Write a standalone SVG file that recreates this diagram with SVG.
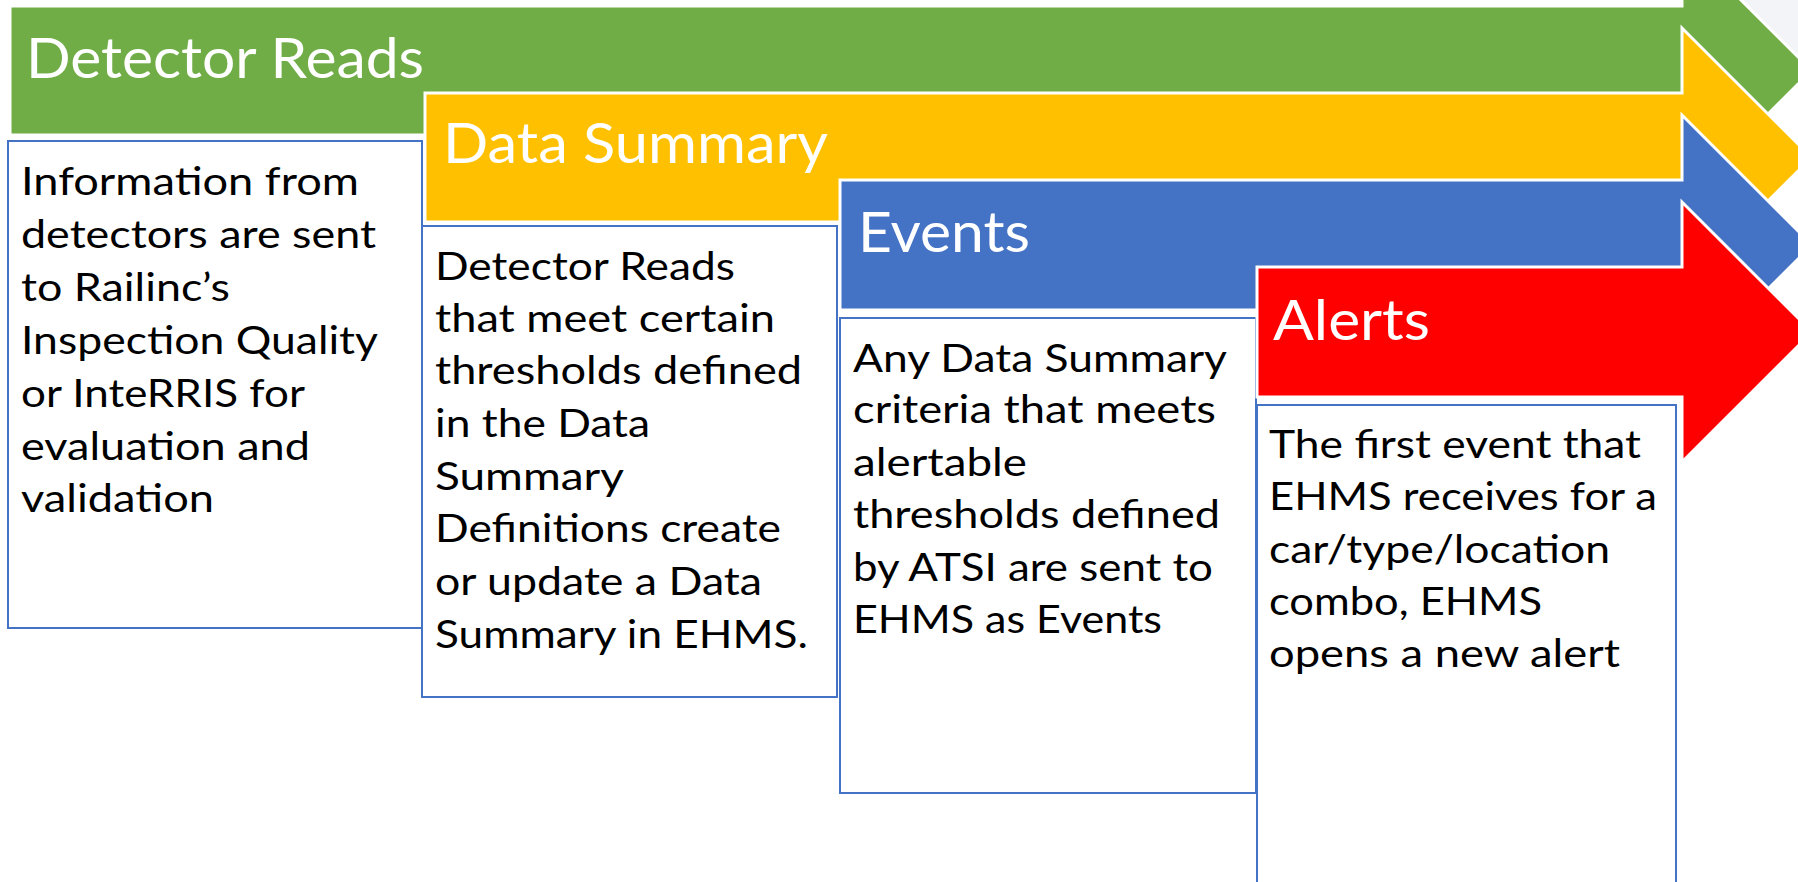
<svg xmlns="http://www.w3.org/2000/svg" width="1798" height="882" viewBox="0 0 1798 882">
  <style>
    .arrow { stroke: #FFFFFF; stroke-width: 3; stroke-linejoin: miter; }
    .box { fill: #FFFFFF; stroke: #4472C4; stroke-width: 2; }
    .title { font-family: Lato, "Open Sans", "Liberation Sans", sans-serif; font-size: 57px; fill: #FFFFFF; }
    .body { font-family: Lato, "Open Sans", "Liberation Sans", sans-serif; font-size: 38px; fill: #000000; }
  </style>
  <rect x="0" y="0" width="1798" height="882" fill="#FFFFFF"/>
  <polygon points="1740,0 1798,0 1798,58" fill="#F2F4F8"/>

  <g id="detector-reads">
    <polygon class="arrow" fill="#70AD47" points="10,6 1682,6 1682,-59 1811.5,70.5 1682,200 1682,135 10,135"/>
    <text class="title" x="26" y="78" textLength="398" lengthAdjust="spacingAndGlyphs">Detector Reads</text>
  </g>
  <g id="detector-reads-desc">
    <rect class="box" x="8" y="141" width="414" height="487"/>
    <text class="body" x="21" y="195" textLength="338" lengthAdjust="spacingAndGlyphs">Information from</text>
    <text class="body" x="21" y="248" textLength="355" lengthAdjust="spacingAndGlyphs">detectors are sent</text>
    <text class="body" x="21" y="301" textLength="209" lengthAdjust="spacingAndGlyphs">to Railinc’s</text>
    <text class="body" x="21" y="354" textLength="357" lengthAdjust="spacingAndGlyphs">Inspection Quality</text>
    <text class="body" x="21" y="407" textLength="284" lengthAdjust="spacingAndGlyphs">or InteRRIS for</text>
    <text class="body" x="21" y="460" textLength="289" lengthAdjust="spacingAndGlyphs">evaluation and</text>
    <text class="body" x="21" y="512" textLength="193" lengthAdjust="spacingAndGlyphs">validation</text>
  </g>

  <g id="data-summary">
    <polygon class="arrow" fill="#FFC000" points="425,93 1682,93 1682,28 1811.5,157.5 1682,287 1682,222 425,222"/>
    <text class="title" x="443" y="163" textLength="385" lengthAdjust="spacingAndGlyphs">Data Summary</text>
  </g>
  <g id="data-summary-desc">
    <rect class="box" x="422" y="226" width="415" height="471"/>
    <text class="body" x="435" y="280" textLength="300" lengthAdjust="spacingAndGlyphs">Detector Reads</text>
    <text class="body" x="435" y="332" textLength="340" lengthAdjust="spacingAndGlyphs">that meet certain</text>
    <text class="body" x="435" y="384" textLength="367" lengthAdjust="spacingAndGlyphs">thresholds defined</text>
    <text class="body" x="435" y="437" textLength="215" lengthAdjust="spacingAndGlyphs">in the Data</text>
    <text class="body" x="435" y="490" textLength="189" lengthAdjust="spacingAndGlyphs">Summary</text>
    <text class="body" x="435" y="542" textLength="346" lengthAdjust="spacingAndGlyphs">Definitions create</text>
    <text class="body" x="435" y="595" textLength="327" lengthAdjust="spacingAndGlyphs">or update a Data</text>
    <text class="body" x="435" y="648" textLength="373" lengthAdjust="spacingAndGlyphs">Summary in EHMS.</text>
  </g>

  <g id="events">
    <polygon class="arrow" fill="#4472C4" points="840,180 1682,180 1682,115 1812,245 1682,375 1682,310 840,310"/>
    <text class="title" x="858" y="252" textLength="172" lengthAdjust="spacingAndGlyphs">Events</text>
  </g>
  <g id="events-desc">
    <rect class="box" x="840" y="318" width="416" height="475"/>
    <text class="body" x="853" y="372" textLength="374" lengthAdjust="spacingAndGlyphs">Any Data Summary</text>
    <text class="body" x="853" y="423" textLength="363" lengthAdjust="spacingAndGlyphs">criteria that meets</text>
    <text class="body" x="853" y="476" textLength="174" lengthAdjust="spacingAndGlyphs">alertable</text>
    <text class="body" x="853" y="528" textLength="367" lengthAdjust="spacingAndGlyphs">thresholds defined</text>
    <text class="body" x="853" y="581" textLength="360" lengthAdjust="spacingAndGlyphs">by ATSI are sent to</text>
    <text class="body" x="853" y="633" textLength="309" lengthAdjust="spacingAndGlyphs">EHMS as Events</text>
  </g>

  <g id="alerts">
    <polygon class="arrow" fill="#FF0000" points="1257,267 1682,267 1682,202 1812,332 1682,462 1682,397 1257,397"/>
    <text class="title" x="1273" y="340" textLength="157" lengthAdjust="spacingAndGlyphs">Alerts</text>
  </g>
  <g id="alerts-desc">
    <rect class="box" x="1257" y="405" width="419" height="500"/>
    <text class="body" x="1269" y="458" textLength="372" lengthAdjust="spacingAndGlyphs">The first event that</text>
    <text class="body" x="1269" y="510" textLength="388" lengthAdjust="spacingAndGlyphs">EHMS receives for a</text>
    <text class="body" x="1269" y="563" textLength="341" lengthAdjust="spacingAndGlyphs">car/type/location</text>
    <text class="body" x="1269" y="615" textLength="273" lengthAdjust="spacingAndGlyphs">combo, EHMS</text>
    <text class="body" x="1269" y="667" textLength="351" lengthAdjust="spacingAndGlyphs">opens a new alert</text>
  </g>

  <g id="connectors"></g>
</svg>
